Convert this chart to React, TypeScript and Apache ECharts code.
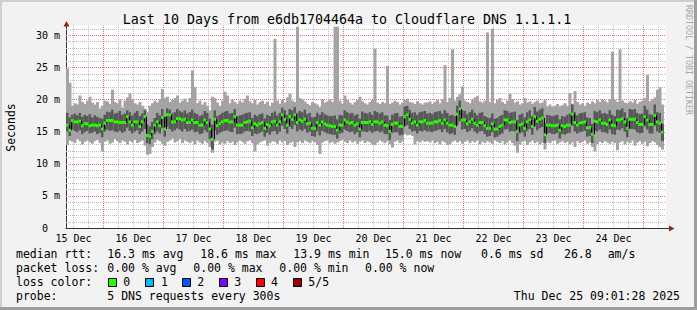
import React, { useEffect, useRef } from 'react';
import * as echarts from 'echarts';

// ---------- texts ----------
const TITLE = 'Last 10 Days from e6db1704464a to Cloudflare DNS 1.1.1.1';
const Y_NAME = 'Seconds';
const WATERMARK = 'RRDTOOL / TOBI OETIKER';
const DAY_LABELS = ['15 Dec', '16 Dec', '17 Dec', '18 Dec', '19 Dec', '20 Dec', '21 Dec', '22 Dec', '23 Dec', '24 Dec'];
// hours since the graph start (Dec 15 09:01:28): noon of each day
const DAY_LABEL_HOURS = [2.975, 26.975, 50.975, 74.975, 98.975, 122.975, 146.975, 170.975, 194.975, 218.975];
// minor grid every 6 hours, major grid at each midnight
const MINOR_HOURS = [
  2.975, 8.975, 20.975, 26.975, 32.975, 44.975, 50.975, 56.975,
  68.975, 74.975, 80.975, 92.975, 98.975, 104.975, 116.975,
  122.975, 128.975, 140.975, 146.975, 152.975, 164.975, 170.975, 176.975,
  188.975, 194.975, 200.975, 212.975, 218.975, 224.975, 236.975,
];
const MIDNIGHT_HOURS = [14.975, 38.975, 62.975, 86.975, 110.975, 134.975, 158.975, 182.975, 206.975, 230.975];
const MINOR_Y = [1, 2, 3, 4, 6, 7, 8, 9, 11, 12, 13, 14, 16, 17, 18, 19, 21, 22, 23, 24, 26, 27, 28, 29, 31];
const MAJOR_Y = [5, 10, 15, 20, 25, 30];
const Y_LABELS = [0, 5, 10, 15, 20, 25, 30];
const X_MAX = 240;
const Y_MAX = 31.5;

const MEDIAN_LABEL = 'median rtt:';
const MEDIAN_STATS = ['16.3 ms avg', '18.6 ms max', '13.9 ms min', '15.0 ms now', '0.6 ms sd', '26.8', 'am/s'];
const LOSS_LABEL = 'packet loss:';
const LOSS_STATS = ['0.00 % avg', '0.00 % max', '0.00 % min', '0.00 % now'];
const COLOR_LABEL = 'loss color:';
const LOSS_NAMES = ['0', '1', '2', '3', '4', '5/5'];
const LOSS_COLORS = ['#26ff00', '#00b8ff', '#0059ff', '#7e00ff', '#ff0000', '#a10000'];
const PROBE_LABEL = 'probe:';
const PROBE_TEXT = '5 DNS requests every 300s';
const STAMP = 'Thu Dec 25 09:01:28 2025';

// ---------- data: hourly values (ms), one per column ----------
const P_MAX = [
  24.8, 22.6, 19.0, 19.4, 19.2, 20.6, 19.6, 19.3, 19.8, 20.4, 19.5, 19.2, 19.6, 18.6, 19.0, 19.8, 19.7, 19.3, 21.5, 19.6, 19.4, 20.0, 18.7, 19.8,
  20.3, 20.9, 19.9, 19.4, 19.2, 19.6, 19.0, 18.6, 18.0, 19.0, 19.4, 19.8, 19.5, 20.0, 21.6, 20.2, 20.4, 19.6, 19.9, 20.2, 20.6, 19.5, 19.8, 20.1,
  19.6, 20.2, 24.5, 21.9, 19.4, 19.8, 19.2, 19.6, 19.0, 18.3, 20.4, 20.2, 19.5, 19.0, 19.8, 21.2, 20.6, 19.4, 19.9, 19.6, 19.3, 19.8, 19.5, 20.1,
  20.6, 19.7, 19.4, 19.9, 19.2, 19.6, 19.8, 19.3, 19.6, 19.0, 19.5, 29.4, 19.8, 19.3, 19.9, 19.5, 20.3, 20.9, 19.8, 19.6, 31.3, 20.2, 20.0, 19.7,
  19.3, 19.1, 19.6, 19.4, 19.2, 18.8, 20.0, 19.5, 19.7, 20.0, 19.6, 31.3, 31.3, 19.8, 19.3, 20.6, 19.9, 19.5, 19.2, 19.6, 19.9, 20.4, 19.7, 19.4,
  19.2, 19.6, 19.9, 27.9, 19.5, 19.3, 19.6, 19.4, 25.2, 19.3, 19.5, 19.8, 19.6, 19.2, 19.5, 19.9, 20.1, 19.6, 19.5, 19.3, 19.7, 19.4, 19.2, 19.5,
  19.5, 19.7, 19.3, 19.6, 19.9, 19.4, 20.0, 25.3, 19.6, 20.2, 27.8, 19.8, 20.4, 20.8, 22.0, 19.8, 19.6, 19.4, 19.9, 20.3, 20.5, 19.7, 19.5, 19.8,
  30.4, 19.6, 31.0, 19.4, 19.9, 20.2, 19.6, 19.3, 19.8, 20.9, 20.0, 19.5, 19.7, 19.2, 19.4, 20.2, 19.5, 19.7, 19.3, 19.6, 19.8, 19.4, 19.5, 19.9,
  18.9, 19.2, 18.8, 19.0, 19.3, 18.9, 19.1, 19.4, 19.0, 21.0, 19.3, 21.3, 19.6, 19.2, 19.4, 19.0, 19.5, 19.3, 19.7, 19.4, 19.9, 19.6, 20.0, 19.8,
  19.5, 20.0, 27.4, 19.9, 19.6, 27.8, 19.8, 19.5, 19.4, 19.7, 19.5, 19.9, 19.3, 19.6, 19.8, 20.2, 23.8, 19.7, 20.0, 20.3, 21.5, 21.9, 19.2,
];
const P_HIGH = [
  17.9, 17.2, 17.6, 17.8, 17.5, 17.9, 17.3, 17.6, 17.4, 17.7, 17.2, 17.5, 17.3, 17.1, 17.0, 17.6, 18.1, 18.0, 18.4, 17.8, 17.9, 18.2, 17.6, 17.8,
  18.3, 18.0, 17.5, 17.9, 18.2, 17.4, 17.8, 18.3, 16.1, 15.8, 16.5, 17.1, 17.9, 17.5, 18.5, 17.3, 18.6, 18.4, 17.8, 18.0, 18.5, 18.2, 18.0, 18.3,
  17.8, 18.0, 18.4, 17.9, 17.7, 17.4, 17.6, 18.2, 17.9, 17.0, 16.1, 18.3, 17.4, 17.6, 17.9, 18.1, 18.2, 17.8, 17.9, 18.5, 17.4, 17.5, 17.6, 17.8,
  17.9, 18.0, 17.1, 17.6, 17.4, 17.7, 17.8, 17.0, 17.6, 17.4, 17.9, 18.1, 17.5, 17.9, 18.7, 18.3, 17.6, 18.5, 18.3, 18.8, 17.9, 18.2, 18.0, 18.4,
  17.7, 17.9, 17.2, 17.3, 17.9, 17.6, 18.0, 17.7, 17.5, 17.4, 17.4, 17.5, 16.9, 17.6, 17.5, 18.3, 18.0, 17.8, 17.9, 17.5, 17.7, 17.0, 18.1, 17.9,
  17.8, 18.0, 17.6, 18.2, 18.0, 17.8, 18.0, 17.5, 17.5, 16.8, 17.6, 17.8, 17.9, 17.3, 17.4, 18.9, 19.0, 18.4, 17.9, 18.0, 17.6, 18.0, 18.1, 18.2,
  17.8, 17.9, 17.7, 18.0, 18.1, 18.2, 17.8, 18.3, 17.9, 17.5, 17.6, 17.4, 19.0, 19.8, 18.3, 18.2, 17.7, 18.0, 18.4, 17.9, 17.5, 17.9, 18.0, 17.4,
  17.2, 17.1, 17.8, 17.0, 17.1, 17.4, 17.6, 18.3, 18.2, 17.9, 18.0, 18.1, 16.8, 17.6, 17.8, 17.2, 18.0, 18.3, 17.4, 18.8, 18.1, 18.4, 18.6, 16.3,
  17.6, 17.5, 17.4, 17.5, 17.6, 16.9, 17.4, 17.3, 17.6, 17.8, 19.2, 18.0, 17.5, 17.8, 17.9, 18.0, 17.2, 17.1, 16.2, 18.2, 18.0, 18.3, 17.8, 17.9,
  17.7, 18.3, 17.6, 17.4, 18.4, 18.3, 18.6, 18.0, 17.1, 18.5, 18.4, 18.5, 17.9, 17.7, 17.8, 19.0, 18.4, 17.7, 17.6, 19.2, 18.0, 17.9, 16.2,
];
const MEDIAN = [
  16.0, 15.2, 16.7, 16.5, 16.5, 16.6, 15.9, 16.2, 16.2, 15.9, 16.0, 16.0, 15.9, 16.0, 15.4, 16.3, 16.7, 16.7, 16.7, 16.5, 16.5, 16.4, 16.4, 16.4,
  17.3, 16.5, 16.0, 16.5, 16.5, 15.8, 16.5, 17.3, 14.4, 14.3, 15.0, 16.0, 16.5, 15.9, 17.2, 15.4, 17.6, 17.6, 16.5, 16.5, 17.0, 17.0, 16.8, 16.9,
  16.4, 16.4, 16.8, 16.4, 16.4, 16.0, 16.0, 16.8, 16.4, 15.4, 13.8, 16.9, 15.9, 16.2, 16.5, 16.7, 16.7, 16.5, 16.5, 17.3, 16.0, 16.0, 16.0, 16.4,
  16.5, 16.6, 15.6, 16.2, 16.0, 16.2, 16.4, 15.5, 16.1, 15.9, 16.5, 16.6, 16.0, 16.5, 17.6, 16.9, 16.0, 17.3, 16.9, 17.6, 16.4, 16.8, 16.6, 16.9,
  16.2, 16.3, 15.5, 15.5, 16.4, 16.0, 16.5, 16.2, 16.0, 15.9, 15.8, 15.8, 15.2, 16.0, 16.0, 16.8, 16.5, 16.3, 16.4, 16.0, 16.2, 15.4, 16.4, 16.4,
  16.4, 16.5, 16.1, 16.5, 16.5, 16.3, 16.5, 16.0, 15.9, 15.0, 16.1, 16.3, 16.3, 15.8, 15.8, 17.3, 17.6, 16.9, 16.3, 16.5, 16.0, 16.5, 16.5, 16.7,
  16.3, 16.3, 16.3, 16.5, 16.5, 16.7, 16.3, 16.8, 16.3, 16.0, 16.0, 15.8, 17.7, 18.5, 16.8, 16.8, 16.2, 16.5, 16.9, 16.3, 16.0, 16.4, 16.4, 15.9,
  15.5, 15.5, 16.2, 15.4, 15.4, 15.8, 16.0, 16.8, 16.8, 16.4, 16.5, 16.5, 15.0, 16.0, 16.2, 15.5, 16.5, 16.8, 15.8, 17.3, 16.6, 16.9, 17.1, 14.5,
  16.0, 16.0, 15.9, 15.9, 16.0, 15.2, 15.9, 15.8, 16.0, 16.0, 17.7, 16.4, 16.0, 16.3, 16.4, 16.5, 15.6, 15.6, 14.6, 16.6, 16.5, 16.8, 16.3, 16.3,
  16.1, 16.8, 16.0, 15.9, 16.8, 16.8, 17.0, 16.5, 15.5, 16.9, 16.9, 16.9, 16.4, 16.1, 16.1, 17.3, 16.8, 16.1, 16.1, 17.5, 16.5, 16.3, 14.9,
];
const P_LOW = [
  15.0, 14.3, 15.3, 15.1, 14.9, 15.2, 14.6, 14.9, 15.1, 14.7, 14.8, 15.0, 14.6, 14.8, 14.1, 15.0, 15.3, 15.1, 15.2, 15.0, 14.9, 15.1, 14.8, 15.0,
  15.6, 15.1, 14.7, 15.0, 15.2, 14.6, 15.0, 15.4, 13.2, 13.0, 13.8, 14.6, 15.0, 14.7, 15.5, 14.2, 15.7, 15.4, 15.0, 15.2, 15.5, 15.3, 15.0, 15.4,
  15.0, 15.1, 15.3, 14.9, 15.0, 14.6, 14.7, 15.2, 14.9, 13.8, 12.2, 15.2, 14.5, 14.8, 15.0, 15.1, 15.2, 15.0, 14.9, 15.6, 14.6, 14.6, 14.7, 15.0,
  15.1, 15.0, 14.3, 14.7, 14.6, 14.8, 15.0, 14.2, 14.8, 14.5, 15.0, 15.1, 14.6, 15.0, 15.9, 15.4, 14.7, 15.7, 15.4, 16.0, 15.0, 15.3, 15.1, 15.4,
  14.8, 15.0, 14.3, 14.2, 15.0, 14.4, 15.1, 14.9, 14.7, 14.6, 14.5, 14.5, 13.9, 14.7, 14.8, 15.3, 15.1, 14.9, 15.0, 14.6, 14.9, 14.1, 15.0, 15.0,
  14.9, 15.1, 14.8, 15.0, 15.1, 14.9, 15.0, 14.6, 14.6, 13.7, 14.8, 14.9, 14.9, 14.4, 14.5, 15.8, 16.0, 15.4, 15.0, 15.1, 14.7, 15.1, 15.0, 15.2,
  15.0, 15.0, 14.9, 15.1, 15.2, 15.3, 14.9, 15.4, 14.9, 14.6, 14.7, 14.5, 16.0, 16.6, 15.3, 15.4, 14.9, 15.1, 15.5, 15.0, 14.7, 15.0, 15.1, 14.6,
  14.2, 14.3, 14.9, 14.1, 14.2, 14.5, 14.7, 15.3, 15.4, 15.0, 15.1, 15.0, 13.5, 14.7, 14.9, 14.2, 15.1, 15.4, 14.5, 15.8, 15.2, 15.5, 15.7, 13.2,
  14.7, 14.8, 14.6, 14.6, 14.8, 13.9, 14.6, 14.5, 14.7, 14.8, 15.9, 15.0, 14.7, 14.9, 15.0, 15.1, 14.2, 14.3, 13.2, 15.1, 15.0, 15.3, 14.9, 14.9,
  14.7, 15.3, 14.6, 14.5, 15.3, 15.2, 15.5, 15.0, 14.1, 15.4, 15.4, 15.3, 14.9, 14.7, 14.8, 15.8, 15.3, 14.7, 14.7, 15.9, 15.0, 14.8, 13.5,
];
const P_MIN = [
  12.9, 13.6, 13.4, 13.2, 13.8, 13.5, 13.0, 13.4, 13.6, 13.3, 13.1, 13.5, 13.7, 13.2, 11.9, 13.4, 13.6, 13.1, 13.3, 13.8, 13.5, 13.2, 13.6, 13.4,
  13.0, 13.5, 13.3, 13.7, 13.2, 13.4, 13.6, 12.8, 11.4, 11.5, 12.6, 13.3, 13.7, 13.5, 13.1, 12.8, 13.4, 13.6, 13.9, 13.3, 13.5, 13.8, 13.2, 13.6,
  13.4, 13.2, 13.5, 13.0, 13.6, 13.3, 13.1, 13.5, 13.2, 12.6, 11.7, 13.4, 13.6, 13.0, 13.3, 13.1, 13.5, 13.2, 13.4, 12.9, 13.3, 13.6, 13.4, 13.1,
  13.5, 13.6, 13.2, 11.9, 13.0, 13.3, 13.5, 13.6, 12.8, 13.2, 13.5, 13.4, 13.1, 13.6, 13.3, 13.5, 12.9, 13.2, 13.4, 12.6, 13.3, 13.5, 13.2, 13.6,
  13.4, 13.2, 13.5, 13.3, 12.9, 11.5, 13.3, 13.5, 13.6, 13.2, 13.4, 13.1, 13.3, 13.5, 13.7, 13.4, 13.2, 13.6, 13.3, 13.5, 13.1, 13.4, 13.6, 13.2,
  13.5, 13.3, 13.0, 12.9, 13.3, 13.6, 13.4, 13.2, 13.5, 13.0, 12.5, 13.4, 13.6, 13.2, 13.5, 14.6, 14.4, 14.5, 14.3, 13.0, 13.5, 13.3, 13.6, 13.4,
  13.5, 13.3, 13.6, 13.2, 13.4, 13.0, 13.5, 13.3, 12.9, 13.0, 13.4, 13.6, 13.3, 13.5, 13.1, 13.4, 13.6, 13.2, 13.5, 13.3, 13.6, 13.0, 13.4, 13.2,
  13.5, 13.3, 13.1, 13.6, 13.4, 13.2, 13.5, 13.0, 13.3, 13.6, 13.2, 12.8, 11.7, 13.0, 13.4, 13.5, 12.9, 13.3, 13.6, 13.2, 13.4, 13.0, 13.3, 12.2,
  13.4, 13.2, 13.5, 13.6, 13.1, 13.3, 13.5, 13.2, 13.4, 13.0, 13.3, 12.6, 13.5, 13.2, 13.4, 13.6, 13.1, 13.3, 12.6, 11.9, 13.0, 13.4, 13.2, 13.5,
  13.3, 13.1, 13.4, 13.2, 12.1, 13.3, 13.5, 13.0, 13.4, 13.2, 13.6, 12.8, 13.3, 13.5, 13.1, 13.4, 12.7, 13.2, 13.5, 13.3, 12.9, 12.6, 12.2,
];

// ---------- styles ----------
const MONO = '"DejaVu Sans Mono", monospace';
const GRID_GRAY = '#bcbcbc';
const GRID_RED = '#e07070';
const SMOKE_LIGHT = '#a4a4a4';
const SMOKE_DARK = '#585858';
const ARROW = '#9a2020';
const AXIS = '#333333';

function txt(text: string, x: number, y: number, size: number, extra: any = {}) {
  const { align = 'left', fill = '#000', rotation = 0 } = extra;
  return {
    type: 'text',
    x,
    y,
    rotation,
    silent: true,
    z: 10,
    style: {
      text,
      font: `${size}px ${MONO}`,
      fill,
      align,
      textAlign: align,
      verticalAlign: 'middle',
      textVerticalAlign: 'middle',
    },
  };
}

function vLine(color: string) {
  return (_p: any, api: any) => {
    const h = api.value(0);
    const x = Math.round(api.coord([h, 0])[0]) + 0.5;
    const y0 = api.coord([h, 0])[1];
    const y1 = api.coord([h, Y_MAX])[1];
    return {
      type: 'line',
      shape: { x1: x, y1: y0, x2: x, y2: y1 },
      style: { stroke: color, lineWidth: 1, lineDash: [1, 1] },
    };
  };
}

function hLine(color: string) {
  return (_p: any, api: any) => {
    const v = api.value(1);
    const y = Math.round(api.coord([0, v])[1]) + 0.5;
    const x0 = api.coord([0, v])[0];
    const x1 = api.coord([X_MAX, v])[0];
    return {
      type: 'line',
      shape: { x1: x0, y1: y, x2: x1, y2: y },
      style: { stroke: color, lineWidth: 1, lineDash: [1, 1] },
    };
  };
}

export default function App() {
  const ref = useRef<HTMLDivElement>(null);

  useEffect(() => {
    document.body.style.margin = '0';
    if (!ref.current) return;
    const chart = echarts.init(ref.current, null, { renderer: 'svg', width: 697, height: 310 });

    const smokeData = MEDIAN.map((m, i) => [i, P_MIN[i], P_LOW[i], m, P_HIGH[i], P_MAX[i]]);
    const medData = MEDIAN.map((m, i) => [i, m]);

    const smokeRender = (_p: any, api: any) => {
      const i = api.value(0);
      const left = api.coord([i, 0])[0];
      const right = api.coord([i + 1, 0])[0];
      const w = right - left + 0.5;
      const yMin = api.coord([i, api.value(1)])[1];
      const yLow = api.coord([i, api.value(2)])[1];
      const yHigh = api.coord([i, api.value(4)])[1];
      const yMax = api.coord([i, api.value(5)])[1];
      return {
        type: 'group',
        children: [
          { type: 'rect', shape: { x: left, y: yMax, width: w, height: yMin - yMax }, style: { fill: SMOKE_LIGHT } },
          { type: 'rect', shape: { x: left, y: yHigh, width: w, height: yLow - yHigh }, style: { fill: SMOKE_DARK } },
        ],
      };
    };

    const lineRender = (_p: any, api: any) => {
      const i = api.value(0);
      const m = api.value(1);
      const left = api.coord([i, m])[0];
      const right = api.coord([i + 1, m])[0];
      const y = api.coord([i, m])[1];
      const prev = i > 0 ? MEDIAN[i - 1] : m;
      const yp = api.coord([i, prev])[1];
      const xl = Math.round(left) + 0.5;
      return {
        type: 'polyline',
        shape: { points: [[xl, yp], [xl, y], [right, y]] },
        style: { stroke: '#000', lineWidth: 1, fill: null },
      };
    };

    const greenRender = (_p: any, api: any) => {
      const i = api.value(0);
      const m = api.value(1);
      const left = api.coord([i, m])[0];
      const right = api.coord([i + 1, m])[0];
      const y = api.coord([i, m])[1];
      return {
        type: 'rect',
        shape: { x: left, y: y - 1.5, width: right - left, height: 3 },
        style: { fill: LOSS_COLORS[0] },
      };
    };

    const medianXs = [107.3, 200.3, 293.3, 385, 481, 564, 607.7];
    const lossXs = [107.3, 193.3, 279.3, 365];
    const boxXs = [108.5, 145.5, 182.5, 219.5, 256.5, 293.5];
    const boxLabelXs = [123.3, 161, 197.3, 234.3, 271, 308.3];
    const rows = [254.3, 268.3, 282.3, 296];
    const LF = 11.5;

    const graphic: any[] = [
      // frame
      { type: 'rect', silent: true, z: 1, shape: { x: 0, y: 0, width: 697, height: 2 }, style: { fill: '#cfcfcf' } },
      { type: 'rect', silent: true, z: 1, shape: { x: 0, y: 0, width: 2, height: 310 }, style: { fill: '#cfcfcf' } },
      { type: 'rect', silent: true, z: 1, shape: { x: 694, y: 0, width: 3, height: 310 }, style: { fill: '#9e9e9e' } },
      { type: 'rect', silent: true, z: 1, shape: { x: 0, y: 307, width: 697, height: 3 }, style: { fill: '#9e9e9e' } },
      // axis extension + arrows
      { type: 'line', silent: true, z: 5, shape: { x1: 666, y1: 228.5, x2: 670, y2: 228.5 }, style: { stroke: AXIS, lineWidth: 1 } },
      { type: 'polygon', silent: true, z: 6, shape: { points: [[669, 225.5], [674.5, 228.5], [669, 231.5]] }, style: { fill: ARROW } },
      { type: 'polygon', silent: true, z: 6, shape: { points: [[63.5, 26.5], [66.5, 21], [69.5, 26.5]] }, style: { fill: ARROW } },
      txt(TITLE, 347, 19, 13.3, { align: 'center' }),
      txt(Y_NAME, 11, 127.5, 11.5, { align: 'center', rotation: Math.PI / 2 }),
      txt(WATERMARK, 689, 5, 8.3, { fill: '#a8a8a8', rotation: -Math.PI / 2 }),
      txt(MEDIAN_LABEL, 16, rows[0], LF),
      ...MEDIAN_STATS.map((s, k) => txt(s, medianXs[k], rows[0], LF)),
      txt(LOSS_LABEL, 16, rows[1], LF),
      ...LOSS_STATS.map((s, k) => txt(s, lossXs[k], rows[1], LF)),
      txt(COLOR_LABEL, 16, rows[2], LF),
      ...LOSS_COLORS.map((c, k) => ({
        type: 'rect', silent: true, z: 10,
        shape: { x: boxXs[k], y: 278.5, width: 8, height: 8 },
        style: { fill: c, stroke: '#000', lineWidth: 1 },
      })),
      ...LOSS_NAMES.map((s, k) => txt(s, boxLabelXs[k], rows[2], LF)),
      txt(PROBE_LABEL, 16, rows[3], LF),
      txt(PROBE_TEXT, 107.3, rows[3], LF),
      txt(STAMP, 680, rows[3], LF, { align: 'right' }),
    ];

    const option: any = {
      animation: false,
      backgroundColor: '#f2f2f2',
      grid: {
        left: 66, right: 31, top: 25.4, bottom: 82,
        show: true, backgroundColor: '#ffffff', borderWidth: 0,
        containLabel: false, outerBoundsMode: 'none',
      },
      xAxis: {
        type: 'value', min: 0, max: X_MAX,
        axisLine: { show: true, onZero: false, lineStyle: { color: AXIS, width: 1 } },
        axisTick: { show: false },
        axisLabel: {
          customValues: DAY_LABEL_HOURS,
          formatter: (v: number) => {
            const k = DAY_LABEL_HOURS.findIndex((h) => Math.abs(h - v) < 0.01);
            return k >= 0 ? DAY_LABELS[k] : '';
          },
          fontFamily: MONO, fontSize: 10, color: '#000', margin: 5,
        },
        splitLine: { show: false },
      },
      yAxis: {
        type: 'value', min: 0, max: Y_MAX,
        axisLine: { show: true, lineStyle: { color: AXIS, width: 1 } },
        axisTick: { show: false },
        axisLabel: {
          customValues: Y_LABELS,
          formatter: (v: number) => (v === 0 ? '{z|0}' : `${v} m`),
          fontFamily: MONO, fontSize: 10, color: '#000', margin: 6,
          rich: { z: { fontFamily: MONO, fontSize: 10, color: '#000', padding: [0, 12, 0, 0] } },
        },
        splitLine: { show: false },
      },
      series: [
        { type: 'custom', name: 'hgrid minor', silent: true, renderItem: hLine(GRID_GRAY), data: MINOR_Y.map((v) => [0, v]), encode: { x: 0, y: 1 }, z: 1 },
        { type: 'custom', name: 'vgrid minor', silent: true, renderItem: vLine(GRID_GRAY), data: MINOR_HOURS.map((h) => [h, 0]), encode: { x: 0, y: 1 }, z: 1 },
        { type: 'custom', name: 'hgrid major', silent: true, renderItem: hLine(GRID_RED), data: MAJOR_Y.map((v) => [0, v]), encode: { x: 0, y: 1 }, z: 1 },
        { type: 'custom', name: 'vgrid major', silent: true, renderItem: vLine(GRID_RED), data: MIDNIGHT_HOURS.map((h) => [h, 0]), encode: { x: 0, y: 1 }, z: 1 },
        { type: 'custom', name: 'smoke', silent: true, renderItem: smokeRender, data: smokeData, encode: { x: 0, y: [1, 2, 3, 4, 5] }, z: 2 },
        { type: 'custom', name: 'median line', silent: true, renderItem: lineRender, data: medData, encode: { x: 0, y: 1 }, z: 3 },
        { type: 'custom', name: 'median', silent: true, renderItem: greenRender, data: medData, encode: { x: 0, y: 1 }, z: 4 },
      ],
      graphic,
    };

    chart.setOption(option);
    return () => chart.dispose();
  }, []);

  return <div ref={ref} style={{ width: 697, height: 310 }} />;
}
